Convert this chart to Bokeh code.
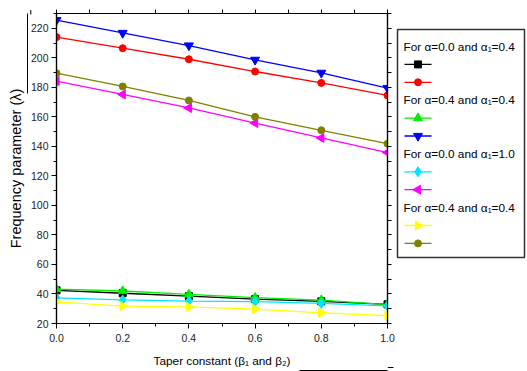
import math
from bokeh.plotting import figure
from bokeh.layouts import row
from bokeh.models import (Range1d, LinearAxis, FixedTicker, PrintfTickFormatter,
                          Arrow, NormalHead)
from bokeh.core.properties import value
from bokeh.embed import file_html
from bokeh.resources import INLINE

# ---------------- data ----------------
taper = [0.0, 0.2, 0.4, 0.6, 0.8, 1.0]
s_black = [42.5, 40.5, 38.5, 36.5, 35.0, 33.0]
s_red = [214.0, 206.5, 199.0, 190.7, 183.0, 174.5]
s_green = [43.3, 42.0, 39.7, 37.5, 35.9, 32.8]
s_blue = [225.5, 216.8, 208.3, 198.6, 189.8, 179.5]
s_cyan = [37.4, 36.0, 35.2, 34.8, 33.6, 32.0]
s_magenta = [184.2, 175.2, 166.0, 155.8, 145.7, 135.8]
s_yellow = [34.7, 31.8, 31.2, 29.8, 27.2, 25.3]
s_olive = [189.6, 180.6, 171.1, 160.0, 150.9, 141.8]

x_ticks = [0.0, 0.2, 0.4, 0.6, 0.8, 1.0]
x_minor = [0.1, 0.3, 0.5, 0.7, 0.9]
y_ticks = [20, 40, 60, 80, 100, 120, 140, 160, 180, 200, 220]
y_minor = [30, 50, 70, 90, 110, 130, 150, 170, 190, 210, 230]

x_title = "Taper constant (\u03b2\u2081 and \u03b2\u2082)"
y_title = "Frequency parameter (\u03bb)"
group_headers = ["For \u03b1=0.0 and \u03b1\u2081=0.4",
                 "For \u03b1=0.4 and \u03b1\u2081=0.4",
                 "For \u03b1=0.0 and \u03b1\u2081=1.0",
                 "For \u03b1=0.4 and \u03b1\u2081=0.4"]

series = [
    # values, colour, marker, angle, size
    (s_black, "#000000", "square", 0.0, 7),
    (s_red, "#ff0000", "circle", 0.0, 7),
    (s_green, "#00ee00", "triangle", 0.0, 9),
    (s_blue, "#0000ff", "inverted_triangle", 0.0, 9),
    (s_cyan, "#00e5ff", "diamond", 0.0, 10),
    (s_magenta, "#ff00ff", "triangle", math.pi / 2, 9),
    (s_yellow, "#ffff00", "triangle", -math.pi / 2, 9),
    (s_olive, "#808000", "circle", 0.0, 7),
]

FONT = "Liberation Sans"
B_TOP = 13
B_BOT = 48
B_LEFT = 56
B_RIGHT = 8
FIG_H = 371
FRAME_H = FIG_H - B_TOP - B_BOT      # 310
MAIN_W = 395                          # frame 331 wide
LEG_W = 132

# ---------------- main figure ----------------
p = figure(width=MAIN_W, height=FIG_H, x_range=Range1d(0, 1), y_range=Range1d(20, 230),
           toolbar_location=None, output_backend="svg",
           min_border_left=B_LEFT, min_border_right=B_RIGHT,
           min_border_top=B_TOP, min_border_bottom=B_BOT)
p.xgrid.visible = False
p.ygrid.visible = False
p.outline_line_color = "#000000"
p.outline_line_width = 1.2

for vals, col, mk, ang, sz in series:
    p.line(taper, vals, line_color=col, line_width=1.3)
    p.scatter(taper, vals, marker=mk, angle=ang, size=sz, fill_color=col, line_color=col)


def style_axis(ax, standoff):
    ax.axis_line_color = "#000000"
    ax.axis_line_width = 1.2
    ax.major_tick_line_color = "#000000"
    ax.minor_tick_line_color = "#000000"
    ax.major_tick_in = 0
    ax.major_tick_out = 5
    ax.minor_tick_in = 0
    ax.minor_tick_out = 3
    ax.major_label_text_font = FONT
    ax.major_label_text_font_size = "10.5px"
    ax.major_label_text_color = "#222222"
    ax.major_label_standoff = standoff


p.xaxis.ticker = FixedTicker(ticks=x_ticks, minor_ticks=x_minor)
p.xaxis.formatter = PrintfTickFormatter(format="%.1f")
p.yaxis.ticker = FixedTicker(ticks=y_ticks, minor_ticks=y_minor)
style_axis(p.xaxis[0], 5)
style_axis(p.yaxis[0], 3)

# x title on the main x axis
p.xaxis.axis_label = x_title
p.xaxis.axis_label_text_font = FONT
p.xaxis.axis_label_text_font_style = "normal"
p.xaxis.axis_label_text_color = "#000000"
p.xaxis.axis_label_text_font_size = "11.8px"
p.xaxis.axis_label_standoff = 9


def mirror_axis(ticks_all):
    ax = LinearAxis(ticker=FixedTicker(ticks=[], minor_ticks=ticks_all))
    ax.axis_line_color = "#000000"
    ax.axis_line_width = 1.2
    ax.minor_tick_line_color = "#000000"
    ax.minor_tick_in = 0
    ax.minor_tick_out = 4
    ax.major_tick_out = 0
    ax.major_label_standoff = 0
    return ax


p.add_layout(mirror_axis(sorted(x_ticks + x_minor)), "above")
p.add_layout(mirror_axis(sorted(y_ticks + y_minor)), "right")


def arrow_axis(bounds, title=None, font_size="12px", standoff=0):
    ax = LinearAxis(ticker=FixedTicker(ticks=[], minor_ticks=[]), bounds=bounds)
    ax.axis_line_color = "#000000"
    ax.axis_line_width = 1
    ax.major_tick_in = 0
    ax.major_tick_out = 0
    ax.minor_tick_in = 0
    ax.minor_tick_out = 0
    ax.major_label_standoff = 0
    if title is not None:
        ax.axis_label = title
        ax.axis_label_text_font = FONT
        ax.axis_label_text_font_style = "normal"
        ax.axis_label_text_color = "#000000"
        ax.axis_label_text_font_size = font_size
        ax.axis_label_standoff = standoff
    return ax


# left: tick labels | arrow body (line) + y title
p.add_layout(arrow_axis((176, 230), y_title, "14.5px", 4), "left")
# bottom: tick labels + x title | arrow body (line)
p.add_layout(arrow_axis((0.734, 1.0)), "below")

# arrow tips
p.add_layout(Arrow(end=NormalHead(size=6, fill_color="black", line_color="black"),
                   x_start=30.3, y_start=14, x_end=30.3, y_end=9.5,
                   start_units="canvas", end_units="canvas",
                   line_color="black", line_width=1))
p.add_layout(Arrow(end=NormalHead(size=6, fill_color="black", line_color="black"),
                   x_start=387, y_start=367, x_end=393, y_end=367,
                   start_units="canvas", end_units="canvas",
                   line_color="black", line_width=1))

# ---------------- legend panel ----------------
frame_w = LEG_W
lg = figure(width=LEG_W, height=FIG_H, x_range=Range1d(0, frame_w), y_range=Range1d(FRAME_H, 0),
            toolbar_location=None, output_backend="svg",
            x_axis_location=None, y_axis_location=None,
            min_border_left=0, min_border_right=0,
            min_border_top=B_TOP, min_border_bottom=B_BOT)
lg.xgrid.visible = False
lg.ygrid.visible = False
lg.outline_line_color = None

box_top = 16
box_bottom = 244
lg.quad(left=[2], right=[129], top=[box_top], bottom=[box_bottom],
        fill_color="white", line_color="#333333", line_width=1.5)

row_step = 17.9
row_y0 = box_top + 17
rows = []
k = 0
for g in range(4):
    rows.append(("header", group_headers[g], row_y0 + k * row_step))
    k += 1
    for j in range(2):
        rows.append(("item", series[2 * g + j], row_y0 + k * row_step))
        k += 1

hx, hy, ht = [], [], []
for kind, obj, yy in rows:
    if kind == "header":
        hx.append(8)
        hy.append(yy)
        ht.append(obj)
    else:
        vals, col, mk, ang, sz = obj
        lg.segment(x0=[9], y0=[yy], x1=[36], y1=[yy], line_color=col, line_width=1.3)
        lg.scatter([22.5], [yy], marker=mk, angle=ang, size=sz, fill_color=col, line_color=col)
lg.text(hx, hy, text=ht, text_font=value(FONT), text_font_size=value("11.8px"),
        text_baseline="middle", text_align="left", text_color="#000000")

layout = row(p, lg)
open("out.html", "w").write(file_html(layout, INLINE))
